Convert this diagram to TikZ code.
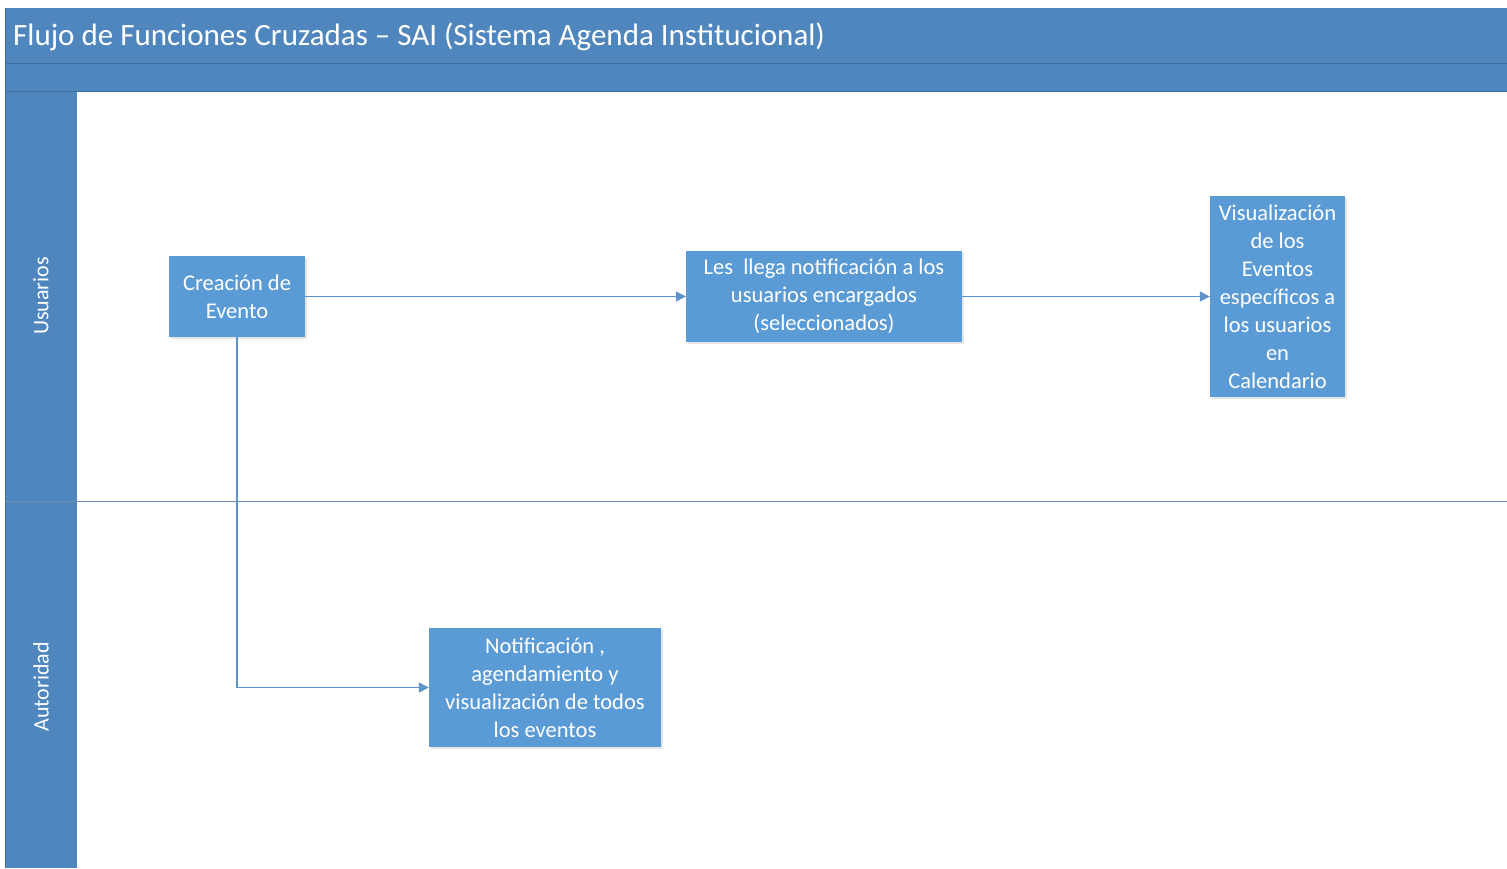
\documentclass[tikz,border=0pt]{standalone}
\usepackage{fontspec}
\setmainfont{Carlito}
\usetikzlibrary{arrows.meta,shadows}
\definecolor{hdr}{HTML}{4F86BD}
\definecolor{hdrline}{HTML}{3E6E9E}
\definecolor{boxc}{HTML}{5B9BD5}
\definecolor{conn}{HTML}{5B93CB}
\definecolor{lane}{HTML}{6F8DAB}
\begin{document}
\begin{tikzpicture}[x=1pt,y=-1pt,
  proc/.style={fill=boxc, text=white, align=center, font=\fontsize{22.5}{28}\selectfont, inner sep=0pt,
    drop shadow={opacity=0.2, shadow xshift=2pt, shadow yshift=-2pt}},
  conn/.style={draw=conn, line width=1.2pt, -{Triangle[length=10pt,width=10pt]}},
  lanelbl/.style={text=white, font=\fontsize{22}{24}\selectfont, rotate=90}]
\useasboundingbox (0,0) rectangle (1507,868);
\fill[white] (0,0) rectangle (1507,868);
% header
\fill[hdr] (5,8) rectangle (1507,92);
\draw[hdrline, line width=1pt] (5,63.5) -- (1507,63.5);
\draw[hdrline, line width=1pt] (5,91.5) -- (1507,91.5);
\node[anchor=west, text=white, font=\fontsize{31}{34}\selectfont, inner sep=0pt] (title) at (13,37) {Flujo de Funciones Cruzadas -- SAI (Sistema Agenda Institucional)};
% lane column
\fill[hdr] (5,92) rectangle (77,868);
\draw[hdrline, line width=1pt] (5.5,8) -- (5.5,868);
\draw[lane, line width=1.2pt] (5,501.5) -- (1507,501.5);
\node[lanelbl] (lu) at (41,296) {Usuarios};
\node[lanelbl] (la) at (41,687) {Autoridad};
% boxes
\node[proc, minimum width=136pt, minimum height=81pt] (b1) at (237,296.5) {Creación de\\Evento};
\node[proc, minimum width=276pt, minimum height=91pt] (b2) at (824,296.5) {Les\ \ llega notificación a los\\usuarios encargados\\(seleccionados)};
\node[proc, minimum width=135pt, minimum height=201pt] (b3) at (1277.5,296.5) {Visualización\\de los\\Eventos\\específicos a\\los usuarios\\en\\Calendario};
\node[proc, minimum width=232pt, minimum height=119pt] (b4) at (545,687.5) {Notificación ,\\agendamiento y\\visualización de todos\\los eventos};
% connectors
\draw[conn] (b1) -- (b2);
\draw[conn] (b2) -- (b3);
\draw[conn] (b1.south) |- (b4.west);
\end{tikzpicture}
\end{document}
